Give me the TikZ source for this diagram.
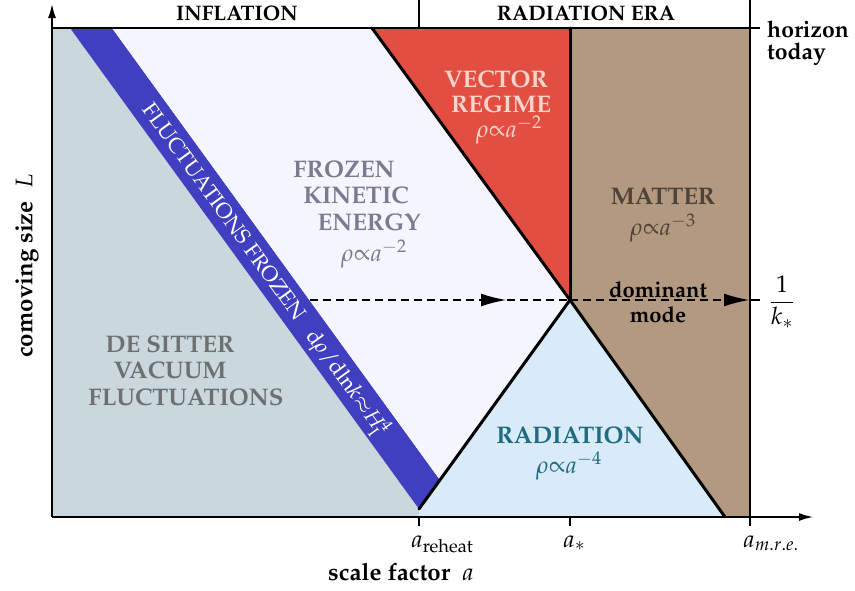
\documentclass[tikz,border=0pt]{standalone}
\usepackage[T1]{fontenc}
\usepackage{mathpazo}
\usepackage{amsmath, amssymb}
\usetikzlibrary{arrows.meta, positioning, calc}

\definecolor{vacgray}{HTML}{CAD8DD}
\definecolor{bandblue}{HTML}{3F3FBF}
\definecolor{lavender}{HTML}{F5F5FF}
\definecolor{vecred}{HTML}{E34E42}
\definecolor{matbrown}{HTML}{B39980}
\definecolor{radblue}{HTML}{D9EBF8}
\definecolor{vectxt}{HTML}{F9D4CC}
\definecolor{frotxt}{HTML}{7B7A8F}
\definecolor{vactxt}{HTML}{6D6F70}
\definecolor{mattxt}{HTML}{4E4339}
\definecolor{radtxt}{HTML}{1F6B80}

\begin{document}
\begin{tikzpicture}[x=1pt, y=-1pt,
            region/.style={font=\fontsize{24}{26}\selectfont\bfseries, anchor=base, inner sep=0pt},
            eqn/.style={font=\fontsize{24}{26}\selectfont, anchor=base, inner sep=0pt},
            era/.style={font=\fontsize{21}{24}\selectfont\bfseries, anchor=base, inner sep=0pt},
            axlabel/.style={font=\fontsize{24}{26}\selectfont\bfseries, inner sep=0pt},
            ticklabel/.style={font=\fontsize{24}{26}\selectfont, anchor=base west, inner sep=0pt},
            edge/.style={line width=3pt, line cap=round},
            axis/.style={line width=1.5pt, -{Latex[length=14pt,width=8pt]}},
            frame/.style={line width=1.5pt},
            flow/.style={line width=2.5pt, dash pattern=on 8pt off 5pt},
            bigtip/.style={-{Latex[length=26pt,width=13pt]}}
        ]
        \useasboundingbox (0,0) rectangle (855,590);

        % --- corners ---
        \coordinate (O) at (52,517);
        \coordinate (TL) at (52,28);
        \coordinate (bandA) at (70,28);
        \coordinate (bandB) at (112,28);
        \coordinate (bandC) at (440,480);
        \coordinate (reheat) at (419,509);
        \coordinate (reheatAx) at (419,517);
        \coordinate (redTop) at (372,28);
        \coordinate (starTop) at (570,28);
        \coordinate (star) at (570,300);
        \coordinate (starAx) at (570,517);
        \coordinate (mreTop) at (750,28);
        \coordinate (mreAx) at (750,517);
        \coordinate (radEnd) at (725,517);

        % --- regions ---
        \fill[vacgray] (O) -- (TL) -- (bandA) -- (reheat) -- (reheatAx) -- cycle;
        \fill[bandblue] (bandA) -- (bandB) -- (bandC) -- (reheat) -- cycle;
        \fill[lavender] (bandB) -- (redTop) -- (star) -- (bandC) -- cycle;
        \fill[vecred] (redTop) -- (starTop) -- (star) -- cycle;
        \fill[matbrown] (starTop) -- (mreTop) -- (mreAx) -- (radEnd) -- (star) -- cycle;
        \fill[radblue] (reheat) -- (star) -- (radEnd) -- (reheatAx) -- cycle;

        % --- boundaries ---
        \draw[edge] (redTop) -- (star) -- (radEnd);
        \draw[edge] (reheat) -- (star);
        \draw[edge] (starTop) -- (star);

        % --- axes and frame ---
        \coordinate (xEnd) at (813,517);
        \coordinate (yEnd) at (52,4);
        \coordinate (mreUp) at (750,0);
        \coordinate (reheatUp) at (419,0);
        \draw[frame] (TL) -- (mreTop);
        \draw[frame] (mreUp) -- (mreAx) -- ++(0,9);
        \draw[frame] (reheatUp) -- (reheatAx |- TL);
        \draw[frame] (reheatAx) -- ++(0,9);
        \draw[frame] (starAx) -- ++(0,9);
        \draw[frame] (mreTop) -- ++(10,0);
        \draw[axis] (O) -- (xEnd);
        \draw[axis] (O) -- (yEnd);

        % --- dominant mode ---
        \coordinate (flowStart) at (310,300);
        \coordinate (flowMid) at (507,300);
        \coordinate (kTick) at (750,300);
        \draw[flow, bigtip] (flowStart) -- (flowMid);
        \draw[flow] (flowMid) -- (star);
        \draw[flow, bigtip] (star) -- (kTick);
        \draw[frame] (kTick) -- ++(10,0);
        \node[font=\fontsize{22}{24}\selectfont\bfseries, anchor=base, inner sep=0pt] (dom) at (658,297) {dominant};
        \node[font=\fontsize{22}{24}\selectfont\bfseries, anchor=base, inner sep=0pt] (mode) at (658,322) {mode};
        \node[font=\fontsize{24}{26}\selectfont, inner sep=0pt] (kstar) at (782,302) {$\displaystyle\frac{1}{k_*}$};

        % --- eras ---
        \node[era] (infl) at (237,20) {INFLATION};
        \node[era] (radera) at (586,20) {RADIATION ERA};
        \node[font=\fontsize{23}{25}\selectfont\bfseries, anchor=base west, inner sep=0pt] (hor) at (767,37) {horizon};
        \node[font=\fontsize{23}{25}\selectfont\bfseries, anchor=base west, inner sep=0pt] (tod) at (767,59) {today};

        % --- region labels ---
        \node[region, text=vactxt] (vac1) at (170,352) {DE SITTER};
        \node[region, text=vactxt] (vac2) at (170,378) {VACUUM};
        \node[region, text=vactxt] (vac3) at (186,405) {FLUCTUATIONS};
        \node[region, text=frotxt] (fro1) at (344,177) {FROZEN};
        \node[region, text=frotxt] (fro2) at (356,203) {KINETIC};
        \node[region, text=frotxt] (fro3) at (369,230) {ENERGY};
        \node[eqn, text=frotxt] (fro4) at (374,261) {$\rho{\propto}a^{-2}$};
        \node[region, text=vectxt] (vec1) at (496,87) {VECTOR};
        \node[region, text=vectxt] (vec2) at (501,112) {REGIME};
        \node[eqn, text=vectxt] (vec3) at (509,137) {$\rho{\propto}a^{-2}$};
        \node[region, text=mattxt] (mat1) at (663,204) {MATTER};
        \node[eqn, text=mattxt] (mat2) at (663,235) {$\rho{\propto}a^{-3}$};
        \node[region, text=radtxt] (rad1) at (570,443) {RADIATION};
        \node[eqn, text=radtxt] (rad2) at (569,473) {$\rho{\propto}a^{-4}$};
        \node[font=\fontsize{21.5}{24}\selectfont, text=white, rotate=-54.1, inner sep=0pt] (frozen) at (265,270)
            {FLUCTUATIONS FROZEN\hspace{0.8em}$\mathrm{d}\rho/\mathrm{d}\!\ln\!k{\approx}H_{\mathrm{I}}^4$};

        % --- axis labels ---
        \node[ticklabel] (aReheat) at (411,547) {$a_{\mathrm{reheat}}$};
        \node[ticklabel] (aStar) at (563,547) {$a_*$};
        \node[ticklabel] (aMre) at (743,547) {$a_{m.r.e.}$};
        \node[axlabel, anchor=base] (xlab) at (401,580) {scale factor\enspace$a$};
        \node[axlabel, rotate=90] (ylab) at (27,266) {comoving size\enspace$L$};

        \end{tikzpicture}
\end{document}
